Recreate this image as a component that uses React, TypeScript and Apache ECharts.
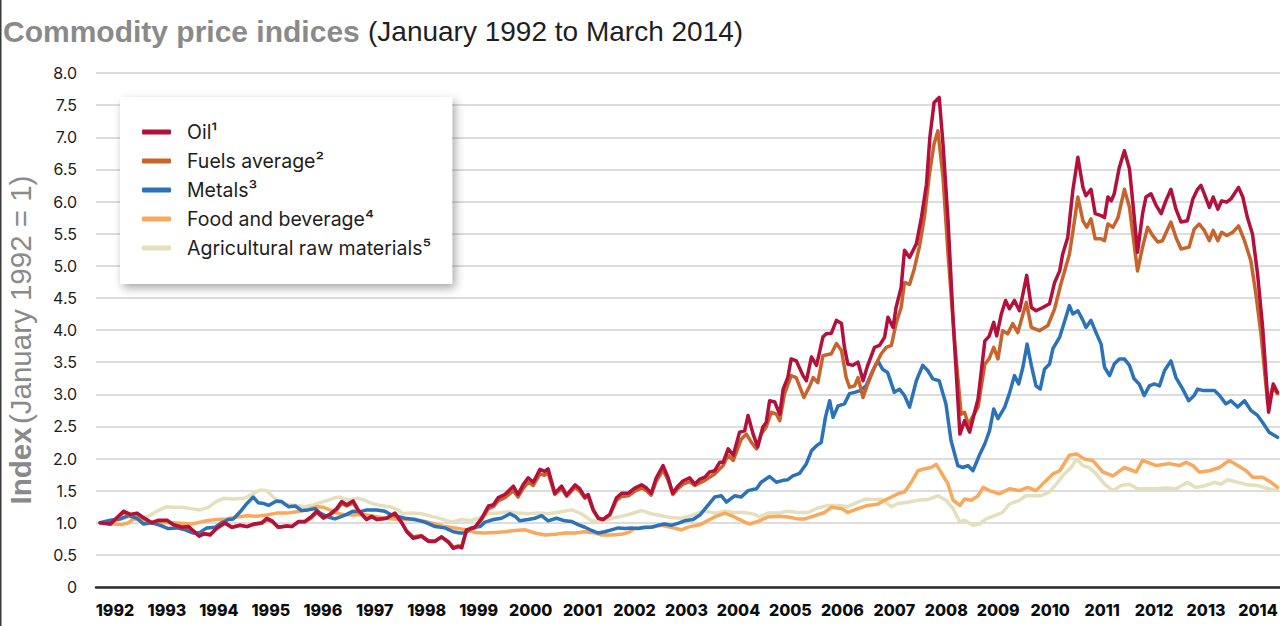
import React, { useEffect, useRef } from "react";
import * as echarts from "echarts";

// x = months since January 1992, y = index value
const YEARS = ["1992","1993","1994","1995","1996","1997","1998","1999","2000","2001","2002","2003","2004","2005","2006","2007","2008","2009","2010","2011","2012","2013","2014"];

const SERIES_NAMES = ["Oil¹", "Fuels average²", "Metals³", "Food and beverage⁴", "Agricultural raw materials⁵"];

const OIL = [
[0,1.00],[2.4,0.98],[3.5,1.05],[5.5,1.18],[7.1,1.13],[8.7,1.15],[10.2,1.08],[12.2,1.00],[13.8,1.04],[15.8,1.04],[17.3,0.97],[19.3,0.93],[20.9,0.94],[22.4,0.85],[23.4,0.79],[24.6,0.83],[26,0.81],[27.6,0.92],[29.5,1.00],[31.1,0.93],[33.1,0.96],[34.7,0.94],[36.2,0.98],[38.2,1.00],[39.4,1.07],[40.6,1.03],[42.1,0.93],[44.1,0.95],[45.3,0.94],[46.9,1.02],[48.4,1.02],[50,1.10],[51.2,1.18],[52.8,1.08],[54.3,1.13],[55.9,1.22],[57.1,1.33],[58.3,1.28],[59.8,1.34],[61,1.20],[63,1.05],[64.2,1.10],[65.4,1.05],[67.7,1.07],[68.9,1.12],
[69.7,1.15],[71.3,1.00],[72.5,0.86],[74,0.76],[76,0.79],[77.6,0.71],[79.2,0.71],[80.7,0.78],[82.3,0.70],[83.5,0.60],[84.7,0.63],[85.5,0.61],[86.6,0.89],[88.6,0.93],[90.2,1.07],[91.8,1.26],[93,1.28],[94.1,1.39],[95.7,1.44],[97.7,1.57],[98.8,1.44],[100,1.59],[101.2,1.70],[102.4,1.63],[104,1.83],[105.1,1.80],[105.9,1.84],[107.5,1.46],[109.1,1.57],[110.3,1.43],[112.3,1.59],[113.4,1.53],[114.6,1.40],[115.4,1.44],[116.6,1.20],[117.8,1.07],[118.9,1.05],[120.5,1.13],[122.1,1.39],[123.3,1.46],[124.9,1.46],[126.4,1.54],[128,1.59],[129.2,1.54],[130.3,1.46],[131.5,1.70],[133.1,1.89],[134.3,1.70],[135.4,1.46],[136.6,1.57],[137.8,1.65],[139.4,1.70],[140.6,1.60],
[141.8,1.68],[143,1.71],[144.1,1.79],[145.3,1.81],[146.5,1.94],[147.3,1.94],[148.5,2.15],[149.7,2.05],[151.2,2.41],[152.4,2.43],[153.2,2.67],[154.4,2.38],[155.5,2.18],[156.7,2.49],[157.5,2.56],[158.3,2.90],[159.5,2.88],[160.7,2.69],[161.5,3.08],[162.6,3.26],[163.4,3.55],[164.6,3.52],[166.2,3.29],[167,3.21],[168.2,3.58],[169.4,3.45],[170.9,3.89],[171.7,3.94],[172.9,3.95],[174.1,4.15],[175.3,4.10],[176,3.73],[176.8,3.47],[178,3.45],[179.2,3.50],[180.4,3.21],[181.5,3.45],[183.1,3.73],[184.3,3.76],[185.5,3.89],[186.3,4.20],[187.5,4.04],[188.2,4.35],[189.4,4.66],[190.2,5.24],[191.4,5.13],[193,5.34],[194.2,5.75],[195.4,6.27],[196.2,7.00],[197.2,7.54],[198.4,7.62],[199.3,6.90],[200.5,5.70],[201.7,4.15],[203.3,2.38],[204.4,2.59],[205.6,2.41],[207.6,2.93],[209.2,3.83],[210.2,3.90],
[211.3,4.12],[212,3.91],[213.1,4.25],[214.1,4.46],[215,4.33],[216.2,4.46],[217.4,4.30],[219.1,4.85],[220.2,4.35],[221.3,4.30],[222.9,4.35],[224.5,4.41],[225.7,4.74],[226.9,4.92],[227.6,5.18],[228.8,5.44],[230,6.17],[231.2,6.69],[232.4,6.22],[233.1,6.09],[234.3,6.19],[235.3,5.81],[236.7,5.78],[237.5,5.75],[238.3,6.07],[239.1,6.01],[239.8,6.12],[241,6.53],[242.2,6.79],[243.4,6.51],[244.3,5.91],[245.3,5.21],[246.5,5.81],[247.3,6.07],[248.5,6.12],[249.7,5.94],[250.9,5.81],[252,6.01],[253.2,6.19],[254.4,5.88],[255.6,5.68],[257.1,5.70],[258.4,6.04],[259.5,6.19],[260.3,6.25],[261.1,6.12],[262.3,5.91],[263.2,6.07],[264.3,5.88],[265.2,6.01],[266.4,5.99],[267.4,6.04],[268.2,6.12],[269.2,6.22],[270.2,6.07],[271.3,5.75],[272.5,5.49],[273.7,4.87],[274.9,4.04],[276.3,2.72],[277.4,3.16],[278.4,3.03]
];

const FUELS = [
[0,1.00],[2.4,0.98],[3.5,1.04],[5.5,1.16],[7.1,1.12],[8.7,1.14],[10.2,1.07],[12.2,1.00],[13.8,1.03],[15.8,1.03],[17.3,0.97],[19.3,0.93],[20.9,0.93],[22.4,0.85],[23.4,0.80],[24.6,0.83],[26,0.82],[27.6,0.91],[29.5,0.99],[31.1,0.93],[33.1,0.96],[34.7,0.94],[36.2,0.97],[38.2,0.99],[39.4,1.05],[40.6,1.02],[42.1,0.93],[44.1,0.95],[45.3,0.94],[46.9,1.01],[48.4,1.01],[50,1.08],[51.2,1.16],[52.8,1.07],[54.3,1.12],[55.9,1.20],[57.1,1.30],[58.3,1.26],[59.8,1.31],[61,1.19],[63,1.05],[64.2,1.09],[65.4,1.05],[67.7,1.07],[68.9,1.11],
[69.7,1.13],[71.3,1.00],[72.5,0.87],[74,0.78],[76,0.80],[77.6,0.72],[79.2,0.72],[80.7,0.78],[82.3,0.71],[83.5,0.62],[84.7,0.64],[85.5,0.63],[86.6,0.88],[88.6,0.92],[90.2,1.05],[91.8,1.22],[93,1.25],[94.1,1.34],[95.7,1.39],[97.7,1.50],[98.8,1.40],[100,1.53],[101.2,1.63],[102.4,1.58],[104,1.76],[105.1,1.74],[105.9,1.78],[107.5,1.44],[109.1,1.53],[110.3,1.41],[112.3,1.55],[113.4,1.49],[114.6,1.38],[115.4,1.41],[116.6,1.19],[117.8,1.07],[118.9,1.05],[120.5,1.12],[122.1,1.35],[123.3,1.41],[124.9,1.42],[126.4,1.49],[128,1.54],[129.2,1.50],[130.3,1.43],[131.5,1.65],[133.1,1.82],[134.3,1.66],[135.4,1.44],[136.6,1.53],[137.8,1.60],[139.4,1.64],[140.6,1.58],
[143,1.66],[145.3,1.76],[147.3,1.89],[148.5,2.05],[149.7,1.97],[151.6,2.30],[152.8,2.38],[154,2.25],[155.2,2.15],[156.3,2.38],[157.5,2.49],[158.7,2.72],[159.9,2.69],[160.7,2.59],[161.8,3.00],[163.4,3.29],[164.6,3.26],[166.4,2.95],[167.8,3.13],[168.6,3.26],[169.7,3.18],[170.9,3.60],[172.9,3.63],[174.1,3.79],[175.3,3.68],[176.4,3.26],[177.2,3.11],[178.4,3.13],[179.2,3.26],[180.4,2.95],[181.5,3.16],[183.1,3.42],[184.7,3.63],[185.9,3.73],[187.1,3.76],[188.2,4.10],[189.4,4.35],[190.2,4.74],[191.4,4.71],[192.5,4.95],[193.7,5.29],[194.9,5.75],[196.1,6.43],[197.2,6.90],[198.1,7.10],[199.3,6.38],[200.5,5.18],[202.1,3.78],[203.6,2.69],[204.4,2.72],[205.3,2.53],[207.6,2.80],[209.2,3.47],[210.2,3.55],
[211.3,3.73],[212.3,3.55],[213.4,3.99],[214.6,3.94],[215.8,4.10],[217,3.96],[219,4.43],[220.2,4.04],[222.1,3.99],[224.1,4.07],[225.7,4.33],[227.2,4.72],[229.2,5.18],[230.4,5.70],[231.2,6.07],[232.4,5.70],[233.3,5.60],[234.3,5.73],[235.3,5.42],[236.7,5.42],[237.5,5.39],[238.3,5.65],[239.5,5.60],[240.7,5.75],[242.2,6.19],[243.4,5.91],[244.4,5.39],[245.3,4.92],[246.5,5.29],[247.7,5.60],[248.9,5.47],[250.1,5.37],[251.2,5.39],[253.2,5.68],[254.4,5.44],[255.6,5.26],[257.5,5.29],[258.7,5.57],[259.9,5.65],[261.1,5.55],[262.3,5.39],[263.2,5.55],[264.3,5.39],[265.2,5.52],[266.4,5.47],[267.8,5.52],[269.2,5.62],[270.6,5.39],[272.1,5.08],[273.3,4.56],[274.5,3.94],[276.1,2.85],[277.3,3.11],[278.4,3.01]
];

const METALS = [
[0,1.00],[2.4,1.04],[4.7,1.06],[6.7,1.11],[8.7,1.07],[10.2,0.98],[12.2,1.00],[14.2,0.96],[16.1,0.91],[18.1,0.92],[20.1,0.89],[22,0.84],[23.6,0.85],[25.2,0.92],[27.2,0.93],[28.7,1.00],[30.3,1.05],[31.5,1.06],[33.1,1.17],[34.7,1.30],[36.2,1.40],[37.4,1.31],[38.6,1.30],[39.8,1.27],[41.7,1.34],[42.9,1.33],[44.5,1.25],[46.1,1.26],[47.6,1.19],[49.2,1.20],[50.8,1.22],[52,1.15],[53.9,1.09],[55.5,1.06],[57.1,1.10],[58.3,1.13],[59.8,1.18],[61.4,1.17],[63,1.20],[65.4,1.20],[67.3,1.18],[68.9,1.12],
[70,1.10],[72.1,1.07],[74.4,1.05],[76.8,1.01],[79.2,0.94],[81.5,0.92],[83.5,0.86],[85.1,0.84],[86.3,0.84],[87.8,0.92],[89.8,0.94],[91,1.01],[93,1.05],[94.9,1.07],[96.9,1.14],[98.1,1.10],[99.2,1.03],[101.2,1.05],[102.8,1.07],[104.4,1.11],[105.9,1.03],[107.9,1.07],[109.9,1.03],[111.5,1.02],[113,0.97],[114.6,0.93],[116.2,0.88],[117.8,0.84],[119.3,0.86],[120.9,0.89],[122.5,0.92],[124.1,0.91],[125.6,0.92],[127.2,0.91],[128.8,0.93],[130.3,0.93],[131.9,0.96],[133.5,0.98],[135,0.96],[136.6,0.99],[138.2,1.03],[140.2,1.05],
[141.8,1.12],[143.7,1.27],[145.3,1.40],[146.9,1.42],[148.1,1.32],[150,1.42],[151.6,1.40],[153.2,1.50],[155.2,1.53],[156.3,1.63],[158.3,1.72],[159.9,1.63],[161.5,1.66],[162.6,1.67],[163.8,1.73],[165.4,1.77],[167,1.92],[168.2,2.12],[169.4,2.20],[170.5,2.25],[171.5,2.64],[172.5,2.90],[173.3,2.64],[174.5,2.82],[176,2.85],[177.2,3.01],[178.4,3.03],[179.9,3.06],[181.1,3.13],[182.7,3.37],[183.9,3.52],[185,3.39],[186.2,3.34],[187.8,3.03],[189,3.08],[190.2,2.98],[191.4,2.80],[193,3.21],[194.5,3.45],[195.7,3.37],[196.9,3.24],[198.4,3.21],[200,2.85],[201.2,2.28],[202.8,1.89],[204,1.86],[205.2,1.89],[206.4,1.81],[207.9,2.05],[209.2,2.23],[210.3,2.43],
[211.3,2.77],[212.3,2.62],[213.9,2.80],[215,3.01],[216.2,3.29],[217.2,3.16],[218.2,3.42],[219.2,3.78],[220.2,3.45],[221.3,3.13],[222.3,3.08],[223.3,3.39],[224.5,3.47],[225.3,3.71],[226.9,3.89],[228,4.12],[229.2,4.38],[230,4.25],[231.2,4.30],[232.4,4.15],[233.1,4.04],[234.3,4.15],[235.5,3.96],[236.7,3.78],[237.5,3.42],[238.7,3.29],[239.8,3.47],[241,3.55],[242.2,3.55],[243.4,3.45],[244.5,3.24],[245.7,3.16],[246.9,2.98],[248.1,3.13],[249.3,3.16],[250.5,3.13],[251.7,3.37],[253.2,3.52],[254.4,3.26],[256,3.08],[257.4,2.90],[258.7,2.98],[259.5,3.08],[260.7,3.06],[262.3,3.06],[263.5,3.06],[264.7,2.98],[266.2,2.85],[267.4,2.90],[269,2.80],[270.6,2.90],[272.1,2.75],[273.7,2.67],[274.9,2.56],[276.4,2.41],[278.4,2.33]
];

const FOOD = [
[0,1.00],[3.2,0.98],[5.1,0.97],[6.7,1.00],[7.9,1.06],[10.2,1.03],[12.6,1.00],[15,1.00],[17.3,1.00],[19.7,0.99],[21.7,0.98],[23.6,1.01],[25.2,1.03],[27.6,1.05],[29.9,1.06],[32.3,1.09],[34.7,1.11],[37,1.10],[39.4,1.12],[41.7,1.15],[44.1,1.15],[46.5,1.17],[48.8,1.20],[51.2,1.25],[52.8,1.24],[54.3,1.20],[55.9,1.15],[57.5,1.13],[59.8,1.12],[62.2,1.13],[64.6,1.10],[66.9,1.08],[69.3,1.06],
[72.1,1.05],[74.4,1.05],[76.8,1.02],[79.2,0.98],[81.5,0.94],[83.9,0.92],[86.3,0.89],[88.6,0.85],[91,0.84],[93.4,0.85],[95.7,0.86],[98.1,0.88],[100.5,0.89],[102.8,0.84],[105.2,0.81],[107.6,0.82],[109.9,0.84],[112.3,0.84],[114.6,0.86],[117,0.84],[118.6,0.81],[120.9,0.81],[123.3,0.82],[124.9,0.85],[126.4,0.91],[128,0.92],[130.3,0.93],[132.7,0.96],[135,0.93],[137.4,0.89],[139.4,0.94],[141.8,0.97],
[143,1.01],[145.3,1.09],[147.7,1.15],[150,1.09],[152.4,1.01],[153.6,0.98],[155.9,1.03],[157.9,1.09],[160.3,1.10],[162.6,1.09],[165,1.06],[166.6,1.06],[169,1.11],[171.3,1.16],[172.9,1.24],[175.3,1.22],[176.8,1.16],[179.2,1.22],[181.5,1.27],[183.9,1.29],[185.5,1.35],[187.1,1.40],[188.6,1.45],[190.2,1.48],[191.8,1.63],[193.4,1.81],[194.9,1.84],[196.5,1.86],[197.7,1.91],[198.8,1.79],[200.5,1.60],[201.7,1.35],[203.3,1.27],[204.4,1.37],[206,1.35],[207.6,1.42],[208.8,1.55],[210.3,1.50],[212.6,1.45],[215,1.53],[217.4,1.50],[219.3,1.55],[221.3,1.50],[223.3,1.63],[225.3,1.76],[226.9,1.81],[229.2,2.05],[230.9,2.07],[232.8,1.99],[234.7,1.97],[237.1,1.79],[239.5,1.73],[242.2,1.86],[245,1.79],[246.5,1.97],[249.7,1.89],[252.8,1.92],[255.2,1.89],[256.8,1.94],[258.4,1.89],[259.9,1.79],[262.3,1.81],[264.7,1.86],[267,1.97],[269,1.89],[271,1.81],[272.5,1.71],[274.9,1.71],[276.9,1.63],[278.4,1.55]
];

const AGRI = [
[0,1.00],[2.4,1.02],[4.7,1.05],[7.1,1.10],[9.4,1.08],[11.4,1.10],[13.4,1.18],[15.8,1.25],[17.3,1.24],[19.3,1.24],[21.3,1.22],[23.6,1.20],[25.6,1.24],[27.2,1.32],[29.1,1.38],[31.5,1.37],[33.9,1.38],[35.8,1.44],[37.8,1.51],[39.4,1.50],[40.6,1.42],[42.1,1.33],[44.1,1.28],[46.5,1.27],[48.4,1.25],[50.4,1.28],[52.4,1.32],[53.9,1.35],[55.5,1.39],[56.7,1.40],[58.7,1.35],[60.6,1.38],[62.2,1.36],[64.2,1.30],[66.2,1.27],[68.5,1.25],[70.5,1.20],
[71.5,1.14],[73.6,1.15],[76,1.14],[78.4,1.10],[80.7,1.06],[83.1,1.01],[85.5,1.05],[87.4,1.03],[89.4,1.07],[91.8,1.14],[94.1,1.15],[96.5,1.17],[98.8,1.15],[101.2,1.14],[103.6,1.15],[105.9,1.14],[109.1,1.17],[111.5,1.20],[113.8,1.14],[116.2,1.03],[118.6,1.01],[120.9,1.07],[123.3,1.10],[125.6,1.14],[128,1.19],[130.3,1.14],[132.7,1.11],[135,1.08],[137.4,1.07],[139.8,1.11],[141.8,1.16],
[143,1.18],[145.3,1.15],[147.7,1.18],[150,1.16],[152.4,1.16],[154.8,1.13],[155.9,1.09],[157.9,1.15],[160.3,1.15],[162.6,1.18],[165,1.16],[167.4,1.16],[169.7,1.23],[172.1,1.27],[174.5,1.27],[176.8,1.25],[179.2,1.32],[181.1,1.37],[183.1,1.36],[184.7,1.37],[187.1,1.25],[188.6,1.30],[191,1.32],[193.4,1.35],[195.7,1.36],[198.1,1.42],[200,1.35],[201.7,1.22],[203.3,1.01],[204.4,1.04],[206.4,0.96],[207.9,0.98],[209.5,1.06],[211.1,1.10],[213.4,1.16],[215,1.29],[217.4,1.35],[218.9,1.42],[220.5,1.42],[222.5,1.42],[224.5,1.48],[226.1,1.60],[228,1.76],[229.6,1.86],[230.9,1.99],[232.4,1.89],[233.9,1.86],[235.5,1.76],[237.5,1.60],[239.5,1.50],[241.4,1.58],[243.4,1.60],[245.3,1.53],[247.3,1.53],[249.7,1.53],[252,1.54],[254.4,1.53],[257.1,1.63],[259.1,1.55],[261.5,1.58],[263.5,1.63],[265,1.60],[266.6,1.67],[269,1.63],[271.3,1.59],[273.7,1.58],[276.1,1.53],[278.4,1.50]
];

const COLORS = ["#b3103c", "#c8642b", "#2b72b8", "#f9a85c", "#e4dfbc"];

function line(name: string, data: number[][], color: string) {
  return {
    type: "line",
    name,
    data,
    xAxisIndex: 0,
    yAxisIndex: 0,
    symbol: "none",
    showSymbol: false,
    lineStyle: { color, width: 3.5, cap: "round", join: "round" },
    itemStyle: { color },
    emphasis: { disabled: true },
    silent: true,
  };
}

export default function App() {
  const ref = useRef<HTMLDivElement>(null);
  useEffect(() => {
    document.body.style.margin = "0";
    const chart = echarts.init(ref.current as HTMLDivElement, null, { renderer: "svg" });
    const gray = "#8a8a8a";
    chart.setOption({
      animation: false,
      backgroundColor: "#ffffff",
      grid: [
        { left: 96, right: 0, top: 73, bottom: 39, outerBoundsMode: "none" },
        { left: 115, right: 22, top: 73, bottom: 39, outerBoundsMode: "none" },
      ],
      xAxis: [
        {
          type: "value", gridIndex: 0, min: -1, max: 279,
          axisLine: { show: true, onZero: false, lineStyle: { color: "#2a2a2a", width: 2.5 } },
          axisTick: { show: false }, axisLabel: { show: false }, splitLine: { show: false },
        },
        {
          type: "category", gridIndex: 1, data: YEARS, boundaryGap: false,
          axisLine: { show: false }, axisTick: { show: false }, splitLine: { show: false },
          axisLabel: { interval: 0, margin: 15, color: "#0d0d0d", fontFamily: "Inter", fontWeight: 800, fontSize: 16 },
        },
      ],
      yAxis: [
        {
          type: "value", gridIndex: 0, min: 0, max: 8, interval: 0.5,
          axisLine: { show: false }, axisTick: { show: false },
          axisLabel: {
            margin: 19, color: "#1c1c1c", fontSize: 16, fontFamily: "Inter",
            formatter: (v: number) => (v === 0 ? "0" : v.toFixed(1)),
          },
          splitLine: { lineStyle: { color: "#d2d2d2", width: 1.5 } },
        },
        { type: "value", gridIndex: 1, min: 0, max: 8, show: false },
      ],
      legend: {
        data: SERIES_NAMES,
        orient: "vertical",
        left: 120,
        top: 97,
        padding: [24, 21, 25, 22],
        itemGap: 7,
        itemWidth: 29,
        itemHeight: 5,
        icon: "roundRect",
        selectedMode: false,
        backgroundColor: "#ffffff",
        shadowBlur: 10,
        shadowColor: "rgba(0,0,0,0.35)",
        shadowOffsetX: 3,
        shadowOffsetY: 4,
        textStyle: { fontFamily: "Inter", fontSize: 19.5, color: "#1e1e1e", lineHeight: 22, padding: [0, 0, 0, 11] },
      },
      graphic: [
        { type: "rect", shape: { x: 0, y: 0, width: 1.5, height: 626 }, style: { fill: "#3a3a3a" } },
        {
          type: "text", x: 3, y: 31,
          style: { text: "Commodity price indices", fontFamily: "Liberation Sans", fontWeight: "bold", fontSize: 30, fill: gray, verticalAlign: "middle", textVerticalAlign: "middle" },
        },
        {
          type: "text", x: 368, y: 31,
          style: { text: "(January 1992 to March 2014)", fontFamily: "Liberation Sans", fontSize: 28, fill: "#1f1f1f", verticalAlign: "middle", textVerticalAlign: "middle" },
        },
        {
          type: "text", x: 20, y: 340, rotation: Math.PI / 2,
          style: {
            text: "{a|Index} {b|(January 1992 = 1)}",
            align: "center", verticalAlign: "middle", textAlign: "center", textVerticalAlign: "middle",
            rich: {
              a: { fontFamily: "Liberation Sans", fontWeight: "bold", fontSize: 29.5, fill: gray, color: gray },
              b: { fontFamily: "Liberation Sans", fontSize: 29.5, fill: gray, color: gray },
            },
          },
        },
      ],
      series: [
        line(SERIES_NAMES[4], AGRI, COLORS[4]),
        line(SERIES_NAMES[3], FOOD, COLORS[3]),
        line(SERIES_NAMES[2], METALS, COLORS[2]),
        line(SERIES_NAMES[1], FUELS, COLORS[1]),
        line(SERIES_NAMES[0], OIL, COLORS[0]),
        { type: "line", xAxisIndex: 1, yAxisIndex: 1, data: [], silent: true },
      ],
    });
    return () => chart.dispose();
  }, []);
  return <div ref={ref} style={{ position: "absolute", left: 0, top: 0, width: 1280, height: 626 }} />;
}
